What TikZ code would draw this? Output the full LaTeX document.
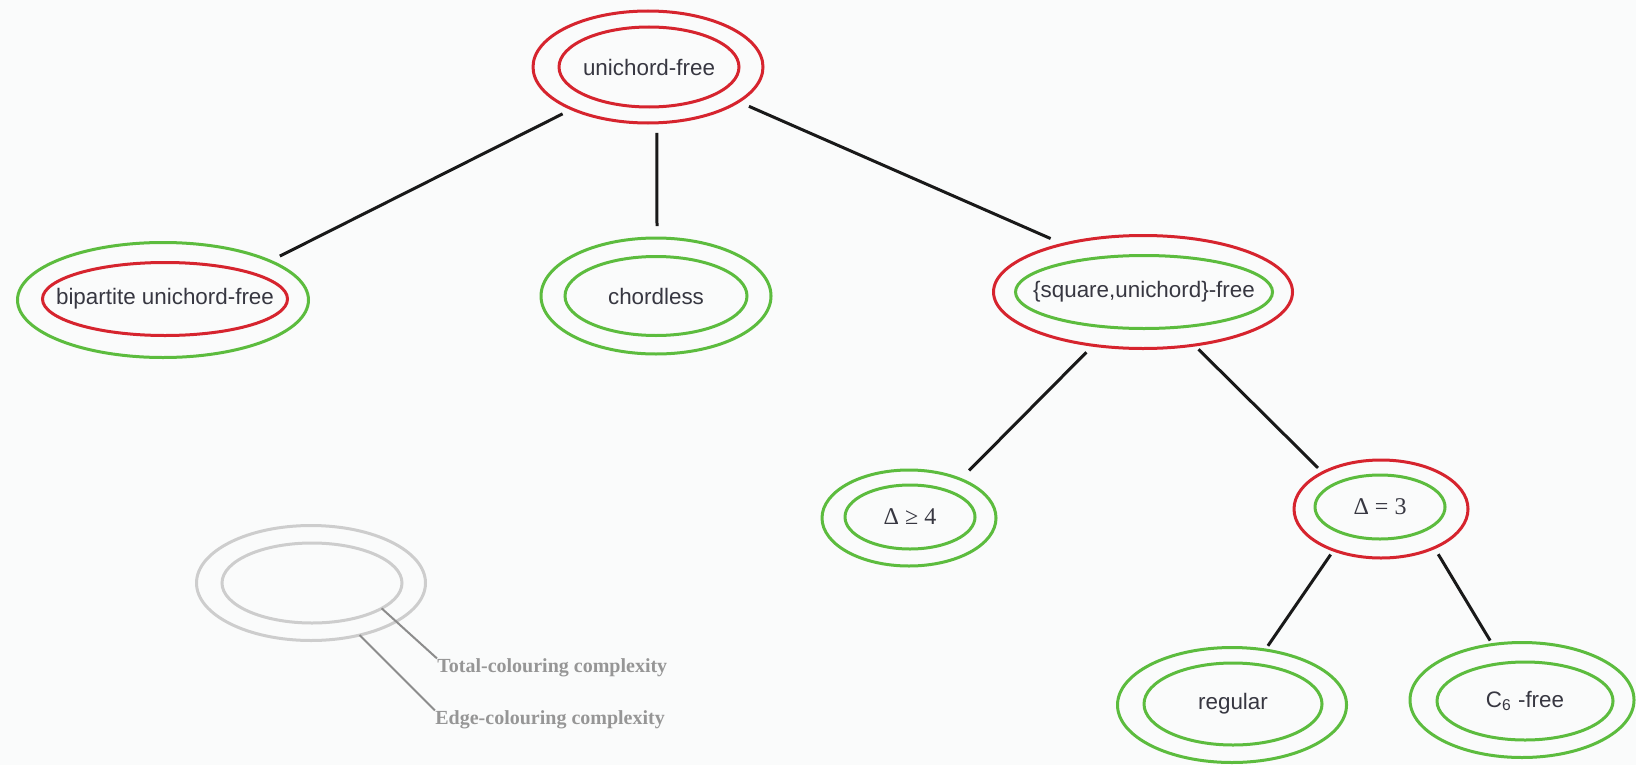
\documentclass[tikz,border=0pt]{standalone}
\usepackage{fontspec}
\setmainfont{Liberation Sans}
\newfontfamily\dserif{Liberation Serif}
\usetikzlibrary{shapes.geometric}
\definecolor{cred}{RGB}{214,36,46}
\definecolor{cgreen}{RGB}{92,188,62}
\definecolor{ctext}{RGB}{55,55,65}
\definecolor{cbg}{RGB}{250,251,251}
\definecolor{clegring}{RGB}{205,205,205}
\definecolor{clegline}{RGB}{140,140,140}
\definecolor{clegtext}{RGB}{150,150,150}
\tikzset{
  ring/.style={ellipse, draw, line width=1.5pt, inner sep=0pt, outer sep=0pt},
  redring/.style={ring, draw=cred},
  greenring/.style={ring, draw=cgreen},
  legring/.style={ring, draw=clegring},
  lbl/.style={inner sep=0pt, text=ctext, font=\fontsize{11.2}{13}\selectfont},
  dlbl/.style={inner sep=0pt, text=ctext, font=\dserif\fontsize{12}{14}\selectfont},
  link/.style={line width=1.5pt, draw=black!90},
  legline/.style={line width=1pt, draw=clegline},
  legtext/.style={inner sep=0pt, anchor=west, text=clegtext, font=\dserif\bfseries\fontsize{10}{12}\selectfont},
}
\begin{document}
\begin{tikzpicture}[x=0.5pt,y=-0.5pt]
\useasboundingbox (0,0) rectangle (1636,765);
\fill[cbg] (0,0) rectangle (1636,765);

% unichord-free
\node[redring, minimum width=115pt, minimum height=56pt] (uf) at (648,67) {};
\node[redring, minimum width=90pt, minimum height=40pt] (ufi) at (649,67) {};
\node[lbl] (uft) at (ufi) {unichord-free};

% bipartite unichord-free
\node[greenring, minimum width=145.5pt, minimum height=57.5pt] (bp) at (163,300) {};
\node[redring, minimum width=122.5pt, minimum height=36.5pt] (bpi) at (165,299) {};
\node[lbl] (bpt) at (bpi) {bipartite unichord-free};

% chordless
\node[greenring, minimum width=115pt, minimum height=58pt] (ch) at (656,296) {};
\node[greenring, minimum width=91pt, minimum height=39.5pt] (chi) at (656,296) {};
\node[lbl] (cht) at (chi) {chordless};

% {square,unichord}-free
\node[redring, minimum width=149.5pt, minimum height=56.5pt] (sq) at (1143,292) {};
\node[greenring, minimum width=128.5pt, minimum height=36.5pt] (sqi) at (1144,292) {};
\node[lbl] (sqt) at (sqi) {\{square,unichord\}-free};

% Delta >= 4
\node[greenring, minimum width=87pt, minimum height=48pt] (dg) at (909,518) {};
\node[greenring, minimum width=65pt, minimum height=32pt] (dgi) at (910,517) {};
\node[dlbl] (dgt) at (dgi) {Δ ≥ 4};

% Delta = 3
\node[redring, minimum width=87pt, minimum height=49pt] (de) at (1381,509) {};
\node[greenring, minimum width=65pt, minimum height=32pt] (dei) at (1380,507) {};
\node[dlbl] (det) at (dei) {Δ = 3};

% regular
\node[greenring, minimum width=114.5pt, minimum height=57.5pt] (rg) at (1232,705) {};
\node[greenring, minimum width=89pt, minimum height=41pt] (rgi) at (1233,704) {};
\node[lbl] (rgt) at (rgi) {regular};

% C6-free
\node[greenring, minimum width=112pt, minimum height=57.5pt] (cs) at (1522,700) {};
\node[greenring, minimum width=88pt, minimum height=39pt] (csi) at (1525,701) {};
\node[lbl] (cst) at (csi) {C\textsubscript{6} -free};

% connectors
\draw[link, shorten <=5.3pt, shorten >=5.5pt] (uf.209) -- (bp.20);
\draw[link, shorten <=5pt, shorten >=6pt] (uf.-81) -- (ch.89);
\draw[link, shorten <=5.8pt, shorten >=7pt] (uf.-21) -- (sq.149);
\draw[link, shorten <=4.9pt, shorten >=6.2pt] (sq.227) -- (dg.37.5);
\draw[link, shorten <=3pt, shorten >=3.4pt] (sq.-46.5) -- (de.148);
\draw[link, shorten <=2.7pt, shorten >=2.5pt] (de.221) -- (rg.59);
\draw[link, shorten <=3.8pt, shorten >=2.3pt] (de.-36) -- (cs.118);

% legend
\node[legring, minimum width=114.5pt, minimum height=57.5pt] (lo) at (311,583) {};
\node[legring, minimum width=90pt, minimum height=40pt] (li) at (312,583) {};
\node[legtext] (tt) at (437,668) {Total-colouring complexity};
\node[legtext] (et) at (435,720) {Edge-colouring complexity};
\draw[legline] (li.-20) -- (tt.north west);
\draw[legline] (lo.-47) -- (et.north west);
\end{tikzpicture}
\end{document}
